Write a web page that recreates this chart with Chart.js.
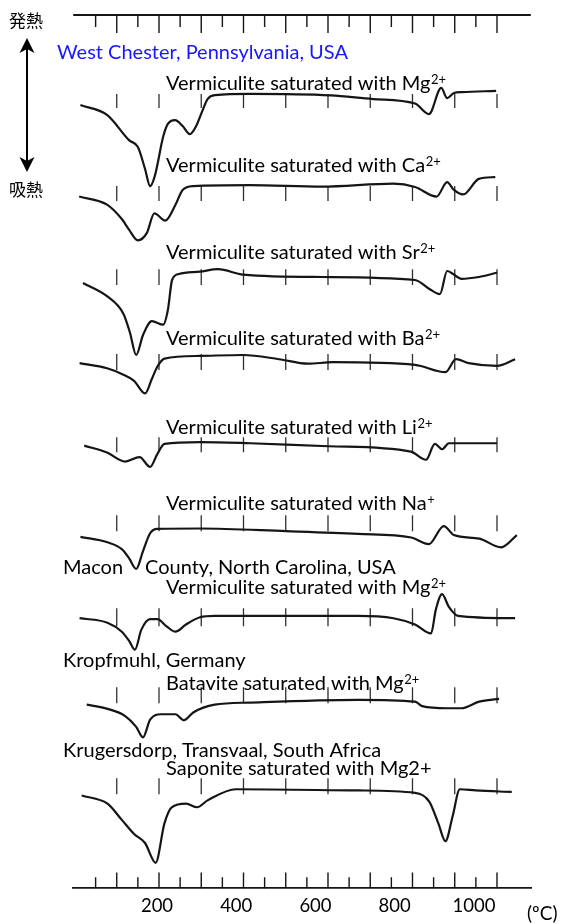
<!DOCTYPE html>
<html>
<head>
<meta charset="utf-8">
<script src="https://cdn.jsdelivr.net/npm/chart.js@4.4.1/dist/chart.umd.min.js"></script>
<style>
  html, body { margin: 0; padding: 0; background: #fff; }
  #wrap { width: 561px; height: 924px; position: relative; }
</style>
</head>
<body>
<div id="wrap"><canvas id="dta" width="561" height="924"></canvas></div>
<script>
// Differential thermal analysis of vermiculite-group minerals.
// Temperatures in °C, signal as recorder deflection (exothermic up).

const traceNames = [
  'Vermiculite saturated with Mg', 'Vermiculite saturated with Ca',
  'Vermiculite saturated with Sr', 'Vermiculite saturated with Ba',
  'Vermiculite saturated with Li', 'Vermiculite saturated with Na',
  'Vermiculite saturated with Mg', 'Batavite saturated with Mg',
  'Saponite saturated with Mg2+'
];
const traceCharges = ['2+', '2+', '2+', '2+', '2+', '+', '2+', '2+', ''];

// West Chester, Pennsylvania
const tempMgA = [14, 77, 129, 150, 167, 179, 190, 210, 221, 238, 256, 273, 288, 302, 315, 333, 415, 607, 707, 806, 839, 868, 882, 898, 917, 998];
const dtaMgA  = [-3.0, -6.3, -14.7, -17, -24.3, -30, -26.7, -13.5, -9.3, -8, -10, -12.7, -10, -5.2, -1, 0.3, 0.7, 0.2, -1, -2.5, -6, 2.7, -0.7, 1, 1.3, 1.7];

const tempCa = [11, 77, 112, 129, 150, 171, 189, 215, 239, 256, 281, 415, 585, 755, 806, 857, 882, 898, 920, 957, 996];
const dtaCa  = [-3.5, -6.2, -11, -14.5, -18.1, -15.7, -9.1, -11.5, -6.2, -1.3, 0, 0.3, -0.2, 0.8, -0.3, -3.5, 1.3, -1.3, -2.8, 2.4, 3];

const tempSr = [20, 77, 116, 131, 146, 162, 183, 210, 221, 231, 247, 297, 340, 399, 586, 806, 839, 865, 882, 895, 916, 957, 1000];
const dtaSr  = [-2.3, -6.7, -12.6, -18.7, -26.3, -19.7, -15, -16.2, -11.3, -1.3, 0.7, 1.5, 2.3, 0.5, -0.3, -1.3, -4.2, -6, 1.7, 0.8, -0.9, -0.3, 1.1];

const tempBa = [12, 77, 112, 141, 167, 183, 196, 213, 297, 399, 484, 552, 612, 806, 878, 903, 933, 1000, 1043];
const dtaBa  = [-2, -3.7, -5.6, -7.9, -12.1, -7.3, -3.2, -0.5, 0.4, 0.7, -0.7, -2.2, -1.7, -2.6, -5, -0.7, -2, -2.9, -0.7];

const tempLi = [23, 77, 120, 154, 179, 196, 213, 297, 416, 602, 796, 832, 853, 870, 886, 1000];
const dtaLi  = [-0.5, -2.8, -5.8, -4.3, -7.6, -3.3, 0.1, 0.7, 0.3, -0.7, -2.5, -5.2, 0.1, -1.7, 0.3, 0.3];

const tempNa = [14, 78, 112, 129, 146, 162, 179, 196, 297, 501, 671, 797, 839, 874, 898, 958, 1010, 1047];
const dtaNa  = [-2.9, -4.7, -7, -10, -13.6, -7.7, -1.7, -0.2, -0.1, -1, -1.9, -3.1, -5.3, 0.7, -2.3, -3.5, -6.4, -2.3];

// Macon County, North Carolina
const tempMgB = [12, 78, 112, 129, 143, 158, 179, 196, 218, 239, 264, 297, 332, 671, 755, 806, 844, 855, 870, 886, 908, 1043];
const dtaMgB  = [-1, -2.5, -5.5, -8.5, -11.5, -4.9, -1.3, -1.3, -3.7, -5.5, -3.1, -0.7, -0.2, -0.2, -1, -3.1, -6.1, 1.7, 7, 2.8, -0.2, -1];

// Kropfmuhl, Germany
const tempBat = [29, 78, 120, 146, 162, 179, 205, 239, 259, 281, 332, 416, 671, 806, 823, 882, 916, 958, 1005];
const dtaBat  = [-0.8, -2.2, -4.6, -8.2, -11.7, -5.8, -4, -4, -6, -3.4, -0.8, -0.1, 0.8, 0.2, -1.3, -2, -2, 0.2, 1.1];

// Krugersdorp, Transvaal
const tempSap = [17, 78, 112, 141, 167, 192, 213, 230, 264, 290, 315, 382, 671, 806, 840, 861, 878, 895, 912, 950, 1035];
const dtaSap  = [-2.1, -4.8, -10.2, -14.9, -17.9, -24.5, -11.3, -6, -4.8, -6, -3.7, 0, -0.4, -1.2, -4.2, -11.3, -17.3, -9, 0, -0.4, -0.9];

// temperature marks on every record and on the reference scales
const traceMarkTemps = [100, 200, 300, 400, 500, 600, 700, 800, 900, 1000];
const scaleMarkTemps = [50, 100, 150, 200, 250, 300, 350, 400, 450, 500, 550, 600, 650, 700, 750, 800, 850, 900, 950, 1000];
const tickLabels = [200, 400, 600, 800, 1000];

const traceTemps = [tempMgA, tempCa, tempSr, tempBa, tempLi, tempNa, tempMgB, tempBat, tempSap];
const traceSignals = [dtaMgA, dtaCa, dtaSr, dtaBa, dtaLi, dtaNa, dtaMgB, dtaBat, dtaSap];

// layout of the stacked records
const traceOffsets = [264, 234, 204, 177, 148, 120, 91, 62, 33];
const markSpans = [[0.7, -4], [0, -5], [2.3, -3], [1, -4.3], [2.3, -2.7], [4.3, -1], [2.3, -3.7], [5, -0.3], [3.7, -1.7]];
const topScaleLevel = 291;
const bottomScaleLevel = 0;

const INK = '#151515';
const LATIN = '"Lato", "Open Sans", sans-serif';
const CJK = '"Noto Sans CJK JP", "Noto Sans CJK SC", sans-serif';

function segments(temps, spanFor) {
  const pts = [];
  temps.forEach(t => {
    const [a, b] = spanFor(t);
    pts.push({ x: t, y: a }, { x: t, y: b }, { x: t, y: null });
  });
  return pts;
}

const datasets = [];
traceTemps.forEach((temps, i) => {
  datasets.push({
    label: traceNames[i] + traceCharges[i],
    data: temps.map((t, j) => ({ x: t, y: traceOffsets[i] + traceSignals[i][j] })),
    borderColor: INK, borderWidth: 2.2, cubicInterpolationMode: 'monotone'
  });
  datasets.push({
    label: 'marks ' + i,
    data: segments(traceMarkTemps, () => [traceOffsets[i] + markSpans[i][0], traceOffsets[i] + markSpans[i][1]]),
    borderColor: '#303030', borderWidth: 1.3, tension: 0
  });
});

// upper reference scale: line with marks hanging below
datasets.push({
  label: 'upper scale',
  data: [{ x: -3, y: topScaleLevel }, { x: 1080, y: topScaleLevel }],
  borderColor: INK, borderWidth: 1.8, tension: 0
});
datasets.push({
  label: 'upper marks',
  data: segments(scaleMarkTemps, t => [topScaleLevel, topScaleLevel - (t % 100 === 0 ? 6 : 4)]),
  borderColor: INK, borderWidth: 1.4, tension: 0
});
// lower reference scale marks standing on the axis line
datasets.push({
  label: 'lower marks',
  data: segments(scaleMarkTemps, t => [bottomScaleLevel, bottomScaleLevel + (t % 100 === 0 ? 5.3 : 3.7)]),
  borderColor: INK, borderWidth: 1.4, tension: 0
});

datasets.forEach(d => {
  d.xAxisID = 'x';
  d.yAxisID = 'y';
  d.pointRadius = 0;
  d.fill = false;
  d.clip = false;
  d.spanGaps = false;
});

// text placed beside the records
const labelX = 166;
const labelY = [83, 165, 252, 338, 427, 503, 587, 683, 768];
const siteLabels = [
  { text: 'West Chester, Pennsylvania, USA', x: 57, y: 52, color: '#1717ff' },
  { text: 'Macon', x: 63, y: 567, color: '#000' },
  { text: 'County, North Carolina, USA', x: 145, y: 567, color: '#000' },
  { text: 'Kropfmuhl, Germany', x: 63, y: 660, color: '#000' },
  { text: 'Krugersdorp, Transvaal, South Africa', x: 63, y: 750, color: '#000' }
];

const annotations = {
  id: 'annotations',
  afterDraw(chart) {
    const ctx = chart.ctx;
    ctx.save();
    ctx.textBaseline = 'alphabetic';
    ctx.textAlign = 'left';
    // curve names with ionic charge
    traceNames.forEach((name, i) => {
      const yb = labelY[i] + 7;
      ctx.fillStyle = '#000';
      ctx.font = '20px ' + LATIN;
      ctx.fillText(name, labelX, yb);
      if (traceCharges[i]) {
        const w = ctx.measureText(name).width;
        ctx.font = '13px ' + LATIN;
        ctx.fillText(traceCharges[i], labelX + w + 0.5, yb - 6.5);
      }
    });
    siteLabels.forEach(s => {
      ctx.fillStyle = s.color;
      ctx.font = '20px ' + LATIN;
      ctx.fillText(s.text, s.x, s.y + 7);
    });
    // unit
    ctx.fillStyle = '#000';
    ctx.font = '19px ' + LATIN;
    ctx.fillText('(ºC)', 527, 920);

    // exo / endo direction
    ctx.font = '17px ' + CJK;
    ctx.textBaseline = 'middle';
    ctx.fillText('発熱', 9, 21);
    ctx.fillText('吸熱', 9, 190);
    ctx.strokeStyle = '#000';
    ctx.fillStyle = '#000';
    ctx.lineWidth = 2;
    ctx.beginPath();
    ctx.moveTo(27, 48);
    ctx.lineTo(27, 162);
    ctx.stroke();
    const head = (tipY, dir) => {
      ctx.beginPath();
      ctx.moveTo(27, tipY);
      ctx.lineTo(19.5, tipY + dir * 15);
      ctx.lineTo(27, tipY + dir * 11);
      ctx.lineTo(34.5, tipY + dir * 15);
      ctx.closePath();
      ctx.fill();
    };
    head(38, 1);
    head(172, -1);
    ctx.restore();
  }
};

new Chart(document.getElementById('dta'), {
  type: 'line',
  data: { datasets },
  options: {
    responsive: false,
    animation: false,
    events: [],
    layout: { padding: { left: 73, right: 30, top: 6, bottom: 0.5 } },
    plugins: { legend: { display: false }, tooltip: { enabled: false } },
    scales: {
      x: { type: 'linear', min: -3.55, max: 1080.5, display: false },
      xl: {
        type: 'linear', position: 'bottom', min: -12, max: 1144,
        afterBuildTicks: scale => { scale.ticks = tickLabels.map(v => ({ value: v })); },
        grid: { display: true, drawOnChartArea: false, drawTicks: false, color: 'rgba(0,0,0,0)' },
        border: { display: true, color: INK, width: 1.8 },
        ticks: {
          color: '#000', padding: 6.5, font: { family: LATIN, size: 18.5 },
          maxRotation: 0, autoSkip: false, callback: v => String(v)
        }
      },
      y: { type: 'linear', min: 0, max: 294, display: false }
    }
  },
  plugins: [annotations]
});
</script>
</body>
</html>
